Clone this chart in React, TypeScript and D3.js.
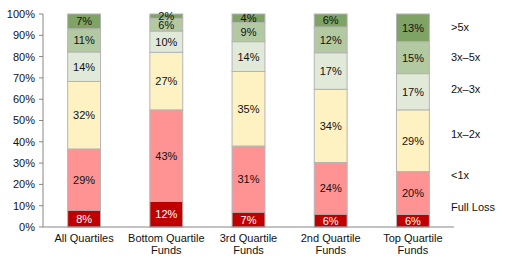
import React from "react";
import * as d3 from "d3";

const categories = ["All Quartiles", "Bottom Quartile\nFunds", "3rd Quartile\nFunds", "2nd Quartile\nFunds", "Top Quartile\nFunds"];
const seriesNames = ["Full Loss", "<1x", "1x–2x", "2x–3x", "3x–5x", ">5x"];
const fullLoss = [8, 12, 7, 6, 6];
const lessThan1x = [29, 43, 31, 24, 20];
const oneToTwo = [32, 27, 35, 34, 29];
const twoToThree = [14, 10, 14, 17, 17];
const threeToFive = [11, 6, 9, 12, 15];
const overFive = [7, 2, 4, 6, 13];
const yTicks = [0, 10, 20, 30, 40, 50, 60, 70, 80, 90, 100];

const series = [fullLoss, lessThan1x, oneToTwo, twoToThree, threeToFive, overFive];
const colors = ["#C00000", "#FF9393", "#FFF2C2", "#E1E9D9", "#B3C9A1", "#7FA265"];
const textColors = ["#FFFFFF", "#111", "#111", "#111", "#111", "#111"];
const legendY = [207, 175, 134, 89, 57, 27];

export default function App() {
  const W = 507, H = 261;
  const x0 = 43, x1 = 454, yTop = 14, yBot = 227;
  const x = d3.scaleBand().domain(categories).range([x0, x1]).paddingInner(0.6).paddingOuter(0.3);
  const y = d3.scaleLinear().domain([0, 100]).range([yBot, yTop]);
  const font = "'Liberation Sans', Arial, sans-serif";

  const rows = categories.map((c, i) => {
    const o: any = { cat: c };
    seriesNames.forEach((s, j) => (o[s] = series[j][i]));
    return o;
  });
  const totals = categories.map((_, i) => d3.sum(series, (s) => s[i]));
  const stacked = d3.stack().keys(seriesNames)(rows as any);

  return (
    <svg width={W} height={H} style={{ position: "absolute", left: 0, top: 0 }} fontFamily={font}>
      {stacked.map((layer, j) =>
        layer.map((d, i) => {
          const t = totals[i];
          const yA = y((d[0] / t) * 100);
          const yB = y((d[1] / t) * 100);
          const bx = x(categories[i])!;
          return (
            <g key={`${j}-${i}`}>
              <rect x={bx} y={yB} width={x.bandwidth()} height={yA - yB} fill={colors[j]} stroke="#B4B4B4" strokeWidth={1} />
              <text x={bx + x.bandwidth() / 2} y={(yA + yB) / 2} dy="0.36em" textAnchor="middle" fontSize={11} fill={textColors[j]}>
                {series[j][i]}%
              </text>
            </g>
          );
        })
      )}
      {seriesNames.map((s, j) => (
        <text key={`lg${j}`} x={451} y={legendY[j]} dy="0.36em" fontSize={11} fill="#111">
          {s}
        </text>
      ))}
      <line x1={x0} x2={x0} y1={yTop} y2={yBot} stroke="#868686" />
      {yTicks.map((t) => (
        <g key={t}>
          <line x1={x0 - 4} x2={x0} y1={y(t)} y2={y(t)} stroke="#868686" />
          <text x={35} y={y(t)} dy="0.36em" textAnchor="end" fontSize={11} fill="#111">
            {t}%
          </text>
        </g>
      ))}
      <line x1={x0} x2={x1} y1={yBot} y2={yBot} stroke="#868686" />
      {categories.map((c) => (
        <text key={c} x={x(c)! + x.bandwidth() / 2} y={242} textAnchor="middle" fontSize={11} fill="#111">
          {c.split("\n").map((line, k) => (
            <tspan key={k} x={x(c)! + x.bandwidth() / 2} dy={k === 0 ? 0 : 12}>
              {line}
            </tspan>
          ))}
        </text>
      ))}
    </svg>
  );
}
